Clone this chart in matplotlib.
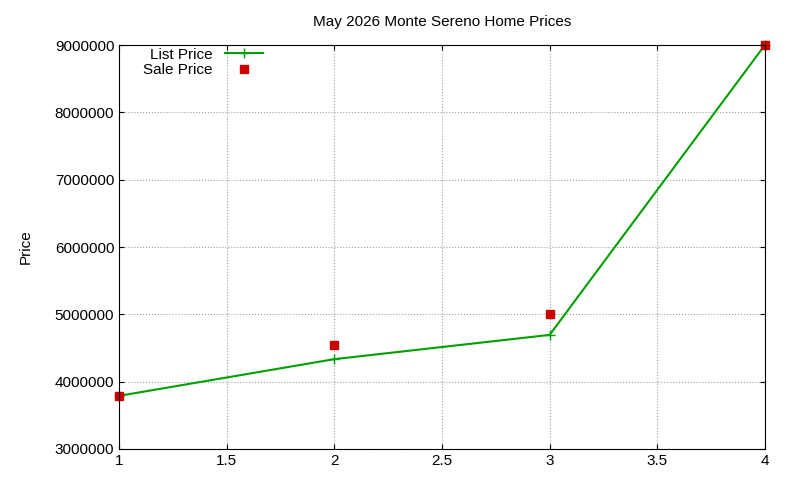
import matplotlib
matplotlib.use("Agg")
import matplotlib.pyplot as plt

plt.rcParams['font.family'] = ['Liberation Sans', 'DejaVu Sans']

x = [1, 2, 3, 4]
list_price = [3790000, 4335000, 4695000, 9000000]
sale_price = [3790000, 4545000, 5005000, 9000000]

fig = plt.figure(figsize=(8, 4.8), dpi=100)
ax = fig.add_axes([0.149, 0.0646, 0.807, 0.8414])
ax.plot(x, list_price, color='#00a000', marker='+', markersize=7, linewidth=1.5, label='List Price', clip_on=False)
ax.plot(x, sale_price, color='#cc0000', marker='s', markersize=6, linestyle='none', label='Sale Price', clip_on=False)
ax.set_xlim(1, 4)
ax.set_ylim(3000000, 9000000)
ax.set_xticks([1, 1.5, 2, 2.5, 3, 3.5, 4])
ax.set_xticklabels(['1', '1.5', '2', '2.5', '3', '3.5', '4'])
ax.set_yticks(range(3000000, 9000001, 1000000))
ax.set_yticklabels([str(v) for v in range(3000000, 9000001, 1000000)])
ax.grid(True, color='#a0a0a0', linestyle=':', linewidth=0.8)
ax.tick_params(direction='in', labelsize=11, top=True, right=True)
ax.set_ylabel('Price', fontsize=11, labelpad=16)
ax.set_title('May 2026 Monte Sereno Home Prices', fontsize=11, pad=14)
ax.legend(loc='upper left', markerfirst=False, frameon=False, fontsize=11,
          bbox_to_anchor=(0.02, 1.02), handlelength=2.5, borderpad=0.2, labelspacing=0.1)
fig.savefig('out.png', dpi=100)
